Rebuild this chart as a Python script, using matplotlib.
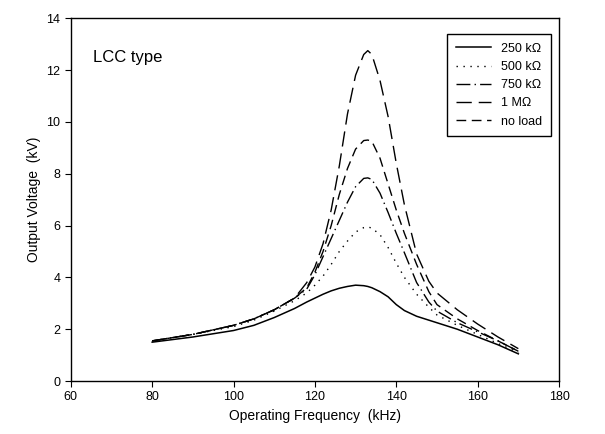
import matplotlib
matplotlib.use("Agg")
import matplotlib.pyplot as plt

plt.rcParams['font.family'] = ['Liberation Sans', 'DejaVu Sans']

freq = [80, 90, 100, 105, 110, 115, 118, 120, 122, 124, 126, 128, 130, 132,
        133, 134, 136, 138, 140, 142, 145, 148, 150, 155, 160, 165, 170]

v_250k = [1.50, 1.70, 1.95, 2.15, 2.45, 2.80, 3.05, 3.20, 3.35, 3.48, 3.58, 3.65, 3.70, 3.68,
          3.65, 3.60, 3.45, 3.25, 2.95, 2.72, 2.50, 2.35, 2.25, 2.00, 1.70, 1.40, 1.05]
v_500k = [1.55, 1.80, 2.10, 2.35, 2.70, 3.10, 3.40, 3.70, 4.05, 4.50, 5.00, 5.40, 5.75, 5.92,
          5.95, 5.90, 5.65, 5.15, 4.55, 4.00, 3.35, 2.85, 2.55, 2.15, 1.80, 1.45, 1.10]
v_750k = [1.55, 1.80, 2.15, 2.40, 2.75, 3.20, 3.55, 4.10, 4.80, 5.50, 6.20, 6.90, 7.50, 7.82,
          7.84, 7.78, 7.25, 6.50, 5.70, 4.95, 3.80, 3.05, 2.70, 2.25, 1.90, 1.55, 1.15]
v_1M = [1.55, 1.80, 2.15, 2.40, 2.75, 3.20, 3.80, 4.40, 5.30, 6.60, 8.30, 10.30, 11.80, 12.60,
        12.75, 12.60, 11.60, 10.20, 8.40, 6.80, 4.90, 3.85, 3.40, 2.75, 2.20, 1.70, 1.25]
v_noload = [1.55, 1.80, 2.15, 2.40, 2.75, 3.20, 3.60, 4.20, 5.00, 6.00, 7.20, 8.20, 8.95, 9.28,
            9.30, 9.25, 8.60, 7.60, 6.60, 5.70, 4.50, 3.45, 2.95, 2.40, 1.95, 1.55, 1.15]

labels = ["250 k\u03a9", "500 k\u03a9", "750 k\u03a9", "1 M\u03a9", "no load"]

fig = plt.figure(figsize=(6.05, 4.34), dpi=100)
ax = fig.add_axes([0.117, 0.122, 0.807, 0.836])

ax.plot(freq, v_250k, c="black", lw=1.1, ls="-", label=labels[0])
ax.plot(freq, v_500k, c="black", lw=1.0, ls=(0, (1, 4)), label=labels[1])
ax.plot(freq, v_750k, c="black", lw=1.0, ls=(0, (10, 3, 1, 3)), label=labels[2])
ax.plot(freq, v_1M, c="black", lw=1.0, ls=(0, (11, 5)), label=labels[3])
ax.plot(freq, v_noload, c="black", lw=1.0, ls=(0, (7, 4)), label=labels[4])

ax.set_xlim(60, 180)
ax.set_ylim(0, 14)
ax.set_xticks(range(60, 181, 20))
ax.set_yticks(range(0, 15, 2))
ax.tick_params(axis="both", which="major", labelsize=9, direction="out", length=4)
for s in ax.spines.values():
    s.set_linewidth(1.0)

ax.set_xlabel("Operating Frequency  (kHz)", fontsize=10)
ax.set_ylabel("Output Voltage  (kV)", fontsize=10)

ax.text(0.045, 0.88, "LCC type", transform=ax.transAxes, fontsize=12)

leg = ax.legend(loc="upper right", bbox_to_anchor=(0.996, 0.974), fontsize=9,
                fancybox=False, edgecolor="black", framealpha=1, handlelength=2.8,
                labelspacing=0.5, borderpad=0.7)
leg.get_frame().set_linewidth(1.0)

fig.savefig("out.png", dpi=100)
